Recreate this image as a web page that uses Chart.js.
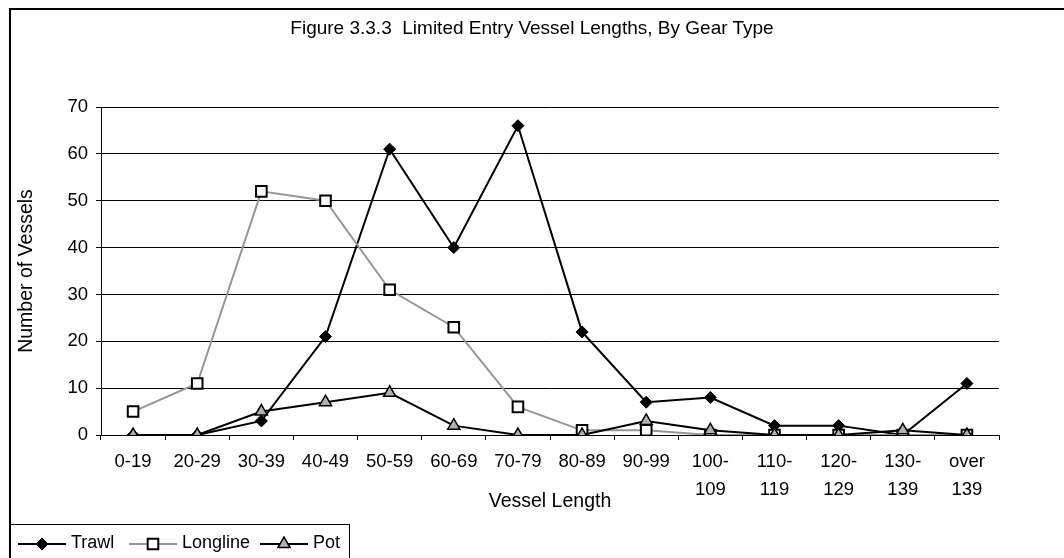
<!DOCTYPE html>
<html>
<head>
<meta charset="utf-8">
<script src="https://cdn.jsdelivr.net/npm/chart.js@4/dist/chart.umd.min.js"></script>
<style>
  body { margin: 0; background: #fff; }
  #wrap { position: relative; width: 1064px; height: 558px; overflow: hidden; font-family: "Liberation Sans", Arial, sans-serif; }
  #title { position: absolute; left: 0; top: 17px; width: 1064px; text-align: center; font-size: 19px; line-height: 22px; color: #000; }
  #legend { position: absolute; left: 10px; top: 524px; width: 338px; height: 40px; border: 1px solid #000; border-bottom: none; }
  .item { position: absolute; top: 6px; font-size: 18px; line-height: 22px; color: #000; white-space: nowrap; }
  .item canvas { position: absolute; left: 0; top: 5px; }
  .item span { position: absolute; top: 0; }
</style>
</head>
<body>
<div id="wrap">
  <canvas id="chart" width="1064" height="558"></canvas>
  <div id="title">Figure 3.3.3&nbsp; Limited Entry Vessel Lengths, By Gear Type</div>
  <div id="legend"></div>
</div>
<script>
// categories and values
const categories = ['0-19', '20-29', '30-39', '40-49', '50-59', '60-69', '70-79', '80-89', '90-99',
  ['100-', '109'], ['110-', '119'], ['120-', '129'], ['130-', '139'], ['over', '139']];
const trawl    = [0, 0, 3, 21, 61, 40, 66, 22, 7, 8, 2, 2, 0, 11];
const longline = [5, 11, 52, 50, 31, 23, 6, 1, 1, 0, 0, 0, 0, 0];
const pot      = [0, 0, 5, 7, 9, 2, 0, 0, 3, 1, 0, 0, 1, 0];
const seriesNames = ['Trawl', 'Longline', 'Pot'];
const yMin = 0, yMax = 70, yStep = 10;

const FONT = '"Liberation Sans", Arial, sans-serif';

const datasets = [
  { label: seriesNames[0], data: trawl, borderColor: '#000', borderWidth: 2,
    pointStyle: 'rectRot', pointRadius: 6, pointBackgroundColor: '#000', pointBorderColor: '#000', pointBorderWidth: 1, order: 3 },
  { label: seriesNames[1], data: longline, borderColor: '#969696', borderWidth: 2,
    pointStyle: 'rect', pointRadius: 7.5, pointBackgroundColor: '#fff', pointBorderColor: '#000', pointBorderWidth: 2, order: 2 },
  { label: seriesNames[2], data: pot, borderColor: '#000', borderWidth: 2,
    pointStyle: 'triangle', pointRadius: 7, pointBackgroundColor: '#b0b0b0', pointBorderColor: '#000', pointBorderWidth: 1.5, order: 1 }
];
datasets.forEach(d => { d.tension = 0; d.fill = false; d.pointHoverRadius = d.pointRadius; });

// outer frame of the figure
const framePlugin = {
  id: 'frame',
  beforeDraw(chart) {
    const ctx = chart.ctx;
    ctx.save();
    ctx.strokeStyle = '#000';
    ctx.lineWidth = 2;
    ctx.beginPath();
    ctx.moveTo(10, 558);
    ctx.lineTo(10, 9);
    ctx.lineTo(1064, 9);
    ctx.stroke();
    ctx.restore();
  }
};

Chart.defaults.color = '#000';
Chart.defaults.font.family = FONT;

new Chart(document.getElementById('chart'), {
  type: 'line',
  data: { labels: categories, datasets: datasets },
  options: {
    responsive: false,
    animation: false,
    devicePixelRatio: 1,
    layout: { padding: { top: 107, right: 65, bottom: 0, left: 0 } },
    plugins: { legend: { display: false }, title: { display: false }, tooltip: { enabled: false } },
    scales: {
      x: {
        offset: true,
        afterFit(s) { s.height = 123; },
        grid: { offset: true, drawOnChartArea: false, drawTicks: true, tickLength: 5, color: '#000', lineWidth: 1 },
        border: { color: '#000', width: 1 },
        ticks: { maxRotation: 0, autoSkip: false, padding: 8, font: { size: 18.5, lineHeight: 1.5 } },
        title: { display: true, text: 'Vessel Length', font: { size: 19.5, lineHeight: 1.2 }, padding: { top: 0, bottom: 44.3 } }
      },
      y: {
        min: yMin, max: yMax,
        afterFit(s) { s.width = 101; },
        grid: { color: '#000', lineWidth: 1, tickLength: 5 },
        border: { color: '#000', width: 1 },
        ticks: { stepSize: yStep, padding: 8, font: { size: 18.5 } },
        title: { display: true, text: 'Number of Vessels', font: { size: 19.5, lineHeight: 1.2 }, padding: { top: 14.9, bottom: 0 } }
      }
    }
  },
  plugins: [framePlugin]
});

// legend: line with marker, then series name
function drawMarker(ctx, ds, x, y) {
  const r = ds.pointRadius;
  ctx.fillStyle = ds.pointBackgroundColor;
  ctx.strokeStyle = ds.pointBorderColor;
  ctx.lineWidth = ds.pointBorderWidth;
  ctx.beginPath();
  if (ds.pointStyle === 'rectRot') {
    ctx.moveTo(x, y - r); ctx.lineTo(x + r, y); ctx.lineTo(x, y + r); ctx.lineTo(x - r, y); ctx.closePath();
  } else if (ds.pointStyle === 'rect') {
    const s = r * Math.SQRT1_2;
    ctx.rect(x - s, y - s, 2 * s, 2 * s);
  } else {
    for (let i = 0; i < 3; i++) {
      const a = i * 2 * Math.PI / 3;
      const px = x + Math.sin(a) * r, py = y - Math.cos(a) * r;
      if (i === 0) ctx.moveTo(px, py); else ctx.lineTo(px, py);
    }
    ctx.closePath();
  }
  ctx.fill();
  ctx.stroke();
}

const legendLeft = [7, 118, 249];
const legendEl = document.getElementById('legend');
datasets.forEach((ds, i) => {
  const item = document.createElement('div');
  item.className = 'item';
  item.style.left = legendLeft[i] + 'px';
  const c = document.createElement('canvas');
  c.width = 48; c.height = 16;
  const ctx = c.getContext('2d');
  ctx.strokeStyle = ds.borderColor;
  ctx.lineWidth = ds.borderWidth;
  ctx.beginPath(); ctx.moveTo(0, 8); ctx.lineTo(48, 8); ctx.stroke();
  drawMarker(ctx, ds, 24, 8);
  const t = document.createElement('span');
  t.style.left = '53px';
  t.textContent = ds.label;
  item.appendChild(c);
  item.appendChild(t);
  legendEl.appendChild(item);
});
</script>
</body>
</html>
